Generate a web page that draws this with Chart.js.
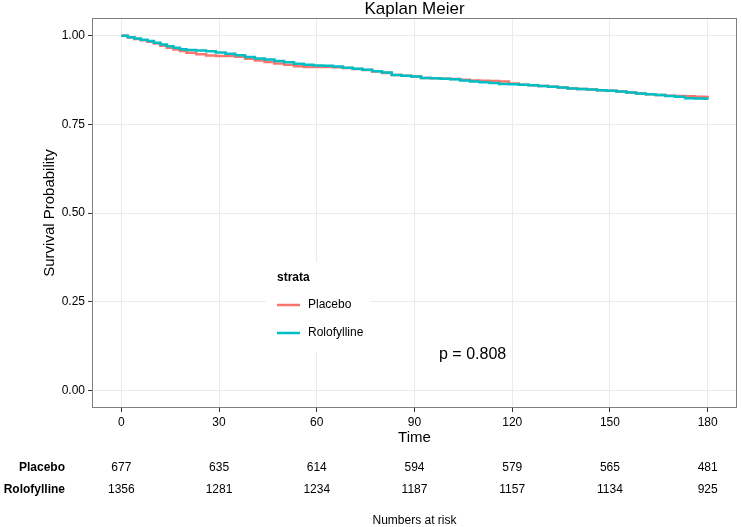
<!DOCTYPE html>
<html>
<head>
<meta charset="utf-8">
<script src="https://cdn.jsdelivr.net/npm/chart.js@4/dist/chart.umd.min.js"></script>
<style>
  html, body { margin: 0; padding: 0; background: #fff; }
  #km { display: block; }
</style>
</head>
<body>
<canvas id="km" width="742" height="527"></canvas>
<script>
// Kaplan-Meier curves (time in days, survival probability)
const placeboTime = [0, 2, 4, 6, 8, 10, 12, 14, 16, 18, 20, 23, 26, 29, 32, 35, 38, 41, 44, 47, 50, 53, 56, 59, 62, 65, 68, 71, 74, 77, 80, 83, 86, 89, 92, 95, 98, 101, 104, 107, 110, 113, 116, 119, 122, 125, 128, 131, 134, 137, 140, 143, 146, 149, 152, 155, 158, 161, 164, 167, 170, 173, 176, 179, 180]
const placeboSurv = [1.000, 0.995, 0.991, 0.987, 0.983, 0.978, 0.972, 0.966, 0.961, 0.957, 0.952, 0.948, 0.944, 0.943, 0.943, 0.941, 0.935, 0.930, 0.926, 0.922, 0.918, 0.914, 0.912, 0.912, 0.912, 0.911, 0.909, 0.906, 0.903, 0.899, 0.895, 0.889, 0.887, 0.885, 0.881, 0.880, 0.879, 0.878, 0.876, 0.874, 0.873, 0.872, 0.871, 0.865, 0.862, 0.860, 0.858, 0.856, 0.854, 0.851, 0.850, 0.848, 0.846, 0.845, 0.843, 0.840, 0.837, 0.835, 0.833, 0.831, 0.830, 0.829, 0.828, 0.827, 0.826]
const roloTime = [0, 2, 4, 6, 8, 10, 12, 14, 16, 18, 20, 23, 26, 29, 32, 35, 38, 41, 44, 47, 50, 53, 56, 59, 62, 65, 68, 71, 74, 77, 80, 83, 86, 89, 92, 95, 98, 101, 104, 107, 110, 113, 116, 119, 122, 125, 128, 131, 134, 137, 140, 143, 146, 149, 152, 155, 158, 161, 164, 167, 170, 173, 176, 179, 180]
const roloSurv = [1.000, 0.996, 0.992, 0.989, 0.985, 0.980, 0.975, 0.970, 0.966, 0.962, 0.960, 0.958, 0.956, 0.953, 0.949, 0.945, 0.940, 0.936, 0.933, 0.929, 0.925, 0.921, 0.918, 0.916, 0.915, 0.913, 0.910, 0.907, 0.904, 0.900, 0.896, 0.889, 0.887, 0.885, 0.881, 0.880, 0.879, 0.877, 0.874, 0.871, 0.869, 0.867, 0.864, 0.863, 0.862, 0.860, 0.858, 0.856, 0.854, 0.851, 0.850, 0.848, 0.846, 0.845, 0.843, 0.840, 0.837, 0.835, 0.833, 0.830, 0.828, 0.824, 0.823, 0.822, 0.821]

const xTicks = [0, 30, 60, 90, 120, 150, 180]
const yTicks = [0, 0.25, 0.5, 0.75, 1]
const riskGroups = ['Placebo', 'Rolofylline']
const riskPlacebo = [677, 635, 614, 594, 579, 565, 481]
const riskRolo = [1356, 1281, 1234, 1187, 1157, 1134, 925]
const pLabel = 'p = 0.808'

const RED = '#F8766D'
const CYAN = '#00BFC4'
const FONT = '"Liberation Sans", Arial, sans-serif'

const toPts = (t, s) => t.map((v, i) => ({ x: v, y: s[i] }))

// panel border, title, legend, risk table
const extras = {
    id: 'extras',
    beforeDatasetsDraw(chart) {
        const { ctx } = chart
        ctx.save()
        // legend box hides the grid behind it
        ctx.fillStyle = '#fff'
        ctx.fillRect(266, 262, 104, 90)
        ctx.restore()
    },
    afterDraw(chart) {
        const { ctx, chartArea: a, scales } = chart
        const x = scales.x
        ctx.save()
        ctx.strokeStyle = '#7f7f7f'
        ctx.lineWidth = 1
        ctx.strokeRect(a.left + 0.5, a.top + 0.5, a.right - a.left - 1, a.bottom - a.top - 1)

        ctx.fillStyle = '#000'
        ctx.textAlign = 'center'
        ctx.textBaseline = 'alphabetic'
        ctx.font = '17px ' + FONT
        ctx.fillText('Kaplan Meier', (a.left + a.right) / 2, 14)

        // axis titles
        ctx.font = '15px ' + FONT
        ctx.textBaseline = 'middle'
        ctx.fillText('Time', (a.left + a.right) / 2, 438)
        ctx.save()
        ctx.translate(50, (a.top + a.bottom) / 2)
        ctx.rotate(-Math.PI / 2)
        ctx.fillText('Survival Probability', 0, 0)
        ctx.restore()

        // legend
        ctx.textAlign = 'left'
        ctx.font = 'bold 12px ' + FONT
        ctx.fillText('strata', 277, 278)
        ctx.font = '12px ' + FONT
        ctx.lineWidth = 2.5
        ;[[RED, 'Placebo', 305], [CYAN, 'Rolofylline', 333]].forEach(([c, t, y]) => {
            ctx.strokeStyle = c
            ctx.beginPath()
            ctx.moveTo(277, y)
            ctx.lineTo(300, y)
            ctx.stroke()
            ctx.fillText(t, 308, y)
        })

        // p value
        ctx.font = '16px ' + FONT
        ctx.fillText(pLabel, 439, 355)

        // numbers at risk
        ctx.font = 'bold 12px ' + FONT
        ctx.textAlign = 'right'
        ctx.fillText(riskGroups[0], 65, 468)
        ctx.fillText(riskGroups[1], 65, 490)
        ctx.font = '12px ' + FONT
        ctx.textAlign = 'center'
        xTicks.forEach((t, i) => {
            const px = x.getPixelForValue(t)
            ctx.fillText(riskPlacebo[i], px, 468)
            ctx.fillText(riskRolo[i], px, 490)
        })
        ctx.fillText('Numbers at risk', (a.left + a.right) / 2, 521)
        ctx.restore()
    }
}

new Chart(document.getElementById('km'), {
    type: 'line',
    data: {
        datasets: [{
            label: 'Placebo',
            data: toPts(placeboTime, placeboSurv),
            borderColor: RED,
            borderWidth: 2.5,
            stepped: true,
            pointRadius: 0,
            fill: false,
            order: 1
        }, {
            label: 'Rolofylline',
            data: toPts(roloTime, roloSurv),
            borderColor: CYAN,
            borderWidth: 2.5,
            stepped: true,
            pointRadius: 0,
            fill: false,
            order: 0
        }]
    },
    options: {
        responsive: false,
        animation: false,
        devicePixelRatio: 1,
        layout: { padding: { top: 18, right: 5, left: 0, bottom: 0 } },
        plugins: {
            legend: { display: false },
            tooltip: { enabled: false },
            title: { display: false }
        },
        scales: {
            x: {
                type: 'linear',
                min: -9,
                max: 189,
                afterBuildTicks: s => { s.ticks = xTicks.map(v => ({ value: v })) },
                afterFit: s => { s.height = 119 },
                grid: { color: '#ebebeb', tickColor: '#333', tickLength: 4, lineWidth: 1 },
                border: { display: false },
                ticks: { color: '#000', font: { family: FONT, size: 12 }, padding: 3, maxRotation: 0 }
            },
            y: {
                type: 'linear',
                min: -0.05,
                max: 1.05,
                afterBuildTicks: s => { s.ticks = yTicks.map(v => ({ value: v })) },
                afterFit: s => { s.width = 92 },
                grid: { color: '#ebebeb', tickColor: '#333', tickLength: 4, lineWidth: 1 },
                border: { display: false },
                ticks: { color: '#000', font: { family: FONT, size: 12 }, padding: 3, callback: v => v.toFixed(2) }
            }
        }
    },
    plugins: [extras]
})
</script>
</body>
</html>
